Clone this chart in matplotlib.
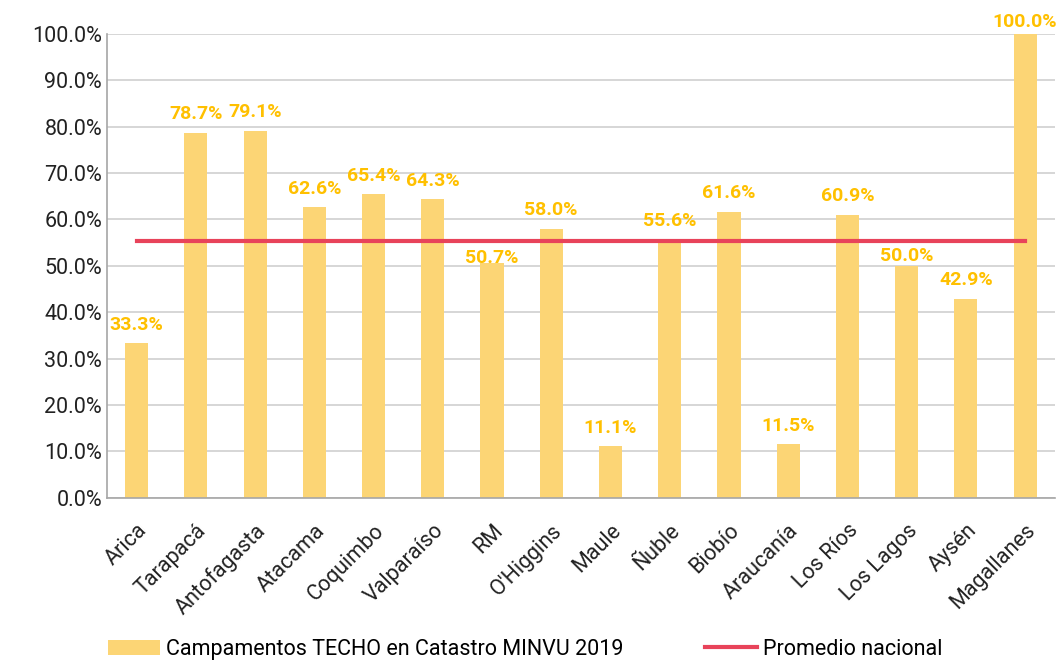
import matplotlib.pyplot as plt
from matplotlib.ticker import FuncFormatter

regiones = ['Arica', 'Tarapacá', 'Antofagasta', 'Atacama', 'Coquimbo', 'Valparaíso',
            'RM', "O'Higgins", 'Maule', 'Ñuble', 'Biobío', 'Araucanía', 'Los Ríos',
            'Los Lagos', 'Aysén', 'Magallanes']
porcentaje = [33.3, 78.7, 79.1, 62.6, 65.4, 64.3, 50.7, 58.0, 11.1, 55.6, 61.6,
              11.5, 60.9, 50.0, 42.9, 100.0]
promedio = [55.4] * len(regiones)

plt.rcParams['font.family'] = ['Roboto', 'DejaVu Sans']

fig = plt.figure(figsize=(10.59, 6.62), dpi=100)
ax = fig.add_axes([0.101, 0.248, 0.895, 0.701])

x = range(len(regiones))
ax.bar(x, porcentaje, width=0.39, color='#FCD575', zorder=2,
       label='Campamentos TECHO en Catastro MINVU 2019')
ax.plot(x, promedio, color='#E8435A', lw=3, zorder=3, label='Promedio nacional')

# label offsets (points); a few were moved to dodge the average line
desplaz = [7] * len(regiones)
desplaz[6] = -3
desplaz[13] = 0.5
desplaz[15] = 2
for xi, v, d in zip(x, porcentaje, desplaz):
    ax.annotate('{:.1f}%'.format(v), (xi, v), xytext=(0, d), textcoords='offset points',
                ha='center', va='bottom', color='#FFC000', fontsize=14,
                fontweight='bold', zorder=4, annotation_clip=False)

ax.set_ylim(0, 100)
ax.set_xlim(-0.5, len(regiones) - 0.5)
ax.set_yticks(range(0, 101, 10))
ax.yaxis.set_major_formatter(FuncFormatter(lambda v, p: '{:.1f}%'.format(v)))
ax.grid(axis='y', color='#D0D0D0', lw=1.2, zorder=0)
ax.set_xticks(list(x))
ax.set_xticklabels(regiones, rotation=45, ha='right', rotation_mode='anchor')
ax.tick_params(axis='both', length=0, labelsize=15.5, colors='#222222')
ax.tick_params(axis='x', pad=16)
for s in ['top', 'right']:
    ax.spines[s].set_visible(False)
for s in ['left', 'bottom']:
    ax.spines[s].set_color('#A6A6A6')
    ax.spines[s].set_linewidth(1.2)

h, l = ax.get_legend_handles_labels()
fig.legend(h[::-1], l[::-1], loc='lower left', bbox_to_anchor=(0.102, 0.003), ncol=2,
           frameon=False, fontsize=15.5, handlelength=2.4, columnspacing=3.8,
           handletextpad=0.3, borderpad=0, borderaxespad=0)

fig.savefig('out.png', dpi=100)
